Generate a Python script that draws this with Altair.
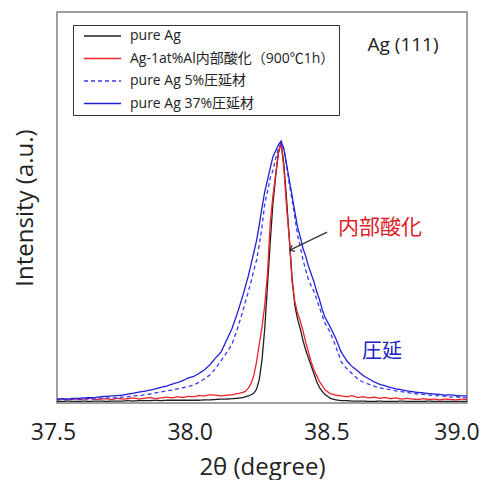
import altair as alt
import pandas as pd

# ---- data ----
series_names = ["pure Ag", "Ag-1at%Al内部酸化（900℃1h）", "pure Ag 5%圧延材", "pure Ag 37%圧延材"]
series_colors = ["#1e1e1e", "#ee2028", "#3a3af2", "#2020d6"]
series_dash = [[1, 0], [1, 0], [4, 3], [1, 0]]

two_theta = ([round(37.50 + 0.02 * i, 2) for i in range(34)]
             + [round(38.18 + 0.01 * i, 2) for i in range(31)]
             + [round(38.50 + 0.02 * i, 2) for i in range(26)])

pure_ag = [0.4, 0.4, 0.5, 0.4, 0.4, 0.5, 0.4, 0.5, 0.5, 0.4,
           0.5, 0.5, 0.5, 0.6, 0.5, 0.6, 0.6, 0.6, 0.7, 0.6,
           0.7, 0.7, 0.7, 0.7, 0.7, 0.7, 0.7, 0.8, 0.8, 0.9,
           1.0, 1.0, 1.1, 1.2,
           1.4, 1.6, 1.8, 2.1, 2.5, 3.5, 6.0, 11.0, 19.0, 30.0,
           41.0, 51.0, 58.0, 64.0, 66.5, 61.0, 52.0, 42.0, 32.0, 25.0,
           21.5, 19.0, 16.0, 13.5, 11.5, 9.5, 7.5, 5.5, 4.0, 3.0,
           2.2,
           1.2, 0.8, 0.6, 0.6, 0.5, 0.5, 0.5, 0.4, 0.4, 0.5,
           0.4, 0.4, 0.4, 0.5, 0.4, 0.4, 0.4, 0.4, 0.5, 0.4,
           0.4, 0.4, 0.4, 0.4, 0.4, 0.4]

ag_al_oxidized = [0.9, 1.0, 0.8, 1.1, 0.9, 1.0, 1.2, 0.9, 1.0, 1.1,
                  0.9, 1.2, 1.0, 1.1, 1.3, 1.0, 1.2, 1.4, 1.1, 1.3,
                  1.5, 1.3, 1.6, 1.4, 1.7, 1.6, 1.9, 1.8, 2.1, 2.0,
                  1.8, 2.0, 2.1, 2.4,
                  2.7, 3.0, 3.8, 5.0, 7.0, 10.5, 15.0, 19.4, 25.0, 33.0,
                  46.0, 53.0, 58.5, 64.0, 66.5, 60.0, 50.0, 42.0, 31.0, 26.0,
                  23.0, 21.0, 18.5, 15.5, 13.0, 10.5, 8.5, 7.0, 5.5, 4.5,
                  3.4,
                  2.4, 2.0, 1.8, 1.6, 1.9, 1.4, 1.6, 1.3, 1.5, 1.2,
                  1.4, 1.1, 1.3, 1.0, 1.2, 1.0, 0.9, 1.1, 0.9, 1.0,
                  0.8, 1.0, 0.9, 0.8, 1.0, 0.9]

rolled_5 = [0.8, 0.9, 0.8, 1.0, 0.9, 1.0, 1.1, 1.0, 1.2, 1.3,
            1.2, 1.4, 1.5, 1.6, 1.8, 1.9, 2.1, 2.3, 2.6, 2.8,
            3.1, 3.3, 3.6, 3.9, 4.2, 4.6, 5.3, 6.2, 7.2, 8.8,
            10.8, 12.8, 15.0, 19.0,
            23.5, 26.0, 28.5, 31.0, 34.0, 36.5, 40.5, 45.0, 51.0, 54.0,
            57.5, 59.5, 62.5, 65.0, 66.5, 65.0, 60.5, 56.0, 52.0, 47.5,
            43.0, 40.0, 36.6, 34.0, 31.5, 30.0, 28.5, 26.5, 24.5, 22.5,
            20.5,
            18.0, 14.5, 10.5, 8.8, 7.5, 6.2, 5.3, 4.8, 4.3, 3.9,
            3.6, 3.4, 3.1, 2.9, 2.7, 2.5, 2.3, 2.2, 2.0, 1.9,
            1.8, 1.7, 1.5, 1.6, 1.4, 1.3]

rolled_37 = [1.0, 1.1, 1.0, 1.2, 1.2, 1.3, 1.4, 1.4, 1.6, 1.7,
             1.8, 1.9, 2.0, 2.3, 2.5, 2.8, 3.0, 3.3, 3.6, 4.0,
             4.3, 4.8, 5.2, 5.7, 6.4, 6.8, 7.6, 8.5, 9.8, 11.5,
             13.0, 16.0, 19.0, 23.0,
             27.5, 30.0, 32.5, 35.5, 38.5, 41.5, 45.5, 50.0, 54.0, 57.0,
             60.0, 63.0, 64.5, 66.0, 67.0, 65.0, 61.0, 57.0, 53.0, 49.0,
             45.0, 42.5, 39.5, 37.5, 35.0, 33.0, 31.0, 28.5, 26.5, 24.0,
             22.0,
             19.4, 16.5, 13.0, 10.8, 9.3, 8.2, 7.0, 6.2, 5.4, 4.8,
             4.4, 4.0, 3.6, 3.4, 3.1, 2.9, 2.7, 2.6, 2.4, 2.3,
             2.2, 2.0, 2.1, 1.9, 1.8, 1.8]

x_ticks = [37.5, 38.0, 38.5, 39.0]

# annotations
note_texts = ["内部酸化", "圧延", "Ag (111)"]
note_x = [38.682, 38.689, 38.766]
note_y = [44.8, 13.0, 91.5]
note_sizes = [21, 20, 19]
note_colors = ["#e02028", "#2020c8", "#222222"]
arrow_x = [38.488, 38.352]
arrow_y = [43.7, 39.1]

# ---- build tables ----
series_values = [pure_ag, ag_al_oxidized, rolled_5, rolled_37]
frames = []
for name, vals in zip(series_names, series_values):
    frames.append(pd.DataFrame({"two_theta": two_theta, "intensity": vals, "series": name}))
df = pd.concat(frames, ignore_index=True)
df["order"] = df["series"].map({n: i for i, n in enumerate(series_names)})

notes = pd.DataFrame({"x": note_x, "y": note_y, "text": note_texts, "c": note_colors, "s": note_sizes})
arrow = pd.DataFrame({"x": arrow_x, "y": arrow_y})
arrow_head = arrow.iloc[[1]]

xs = alt.Scale(domain=[37.5, 39.0], nice=False, zero=False)
ys = alt.Scale(domain=[0, 100], nice=False)

latin = "Open Sans, Noto Sans CJK JP"

lines = alt.Chart(df).mark_line(strokeWidth=1.3, clip=True).encode(
    x=alt.X("two_theta:Q", scale=xs,
            axis=alt.Axis(values=x_ticks, format=".1f", ticks=False, domain=False, grid=False,
                          labelFlush=False, labelFontSize=23, labelFont=latin, labelColor="#222",
                          labelPadding=18,
                          labelOffset={"expr": "datum.value >= 39 ? -10.5 : -4"},
                          title="2θ (degree)", titleFontSize=24, titleFont=latin,
                          titleFontWeight="normal", titleColor="#222", titlePadding=11)),
    y=alt.Y("intensity:Q", scale=ys,
            axis=alt.Axis(labels=False, ticks=False, domain=False, grid=False,
                          title="Intensity (a.u.)", titleFontSize=24, titleFont=latin,
                          titleFontWeight="normal", titleColor="#222", titlePadding=20)),
    color=alt.Color("series:N", scale=alt.Scale(domain=series_names, range=series_colors),
                    legend=alt.Legend(title=None)),
    strokeDash=alt.StrokeDash("series:N", scale=alt.Scale(domain=series_names, range=series_dash),
                              legend=alt.Legend(title=None)),
    order=alt.Order("order:Q"),
)

text_layer = alt.Chart(notes).mark_text(font=latin, align="center", baseline="middle").encode(
    x=alt.X("x:Q", scale=xs), y=alt.Y("y:Q", scale=ys),
    text="text:N", color=alt.Color("c:N", scale=None), size=alt.Size("s:Q", scale=None),
)

arrow_line = alt.Chart(arrow).mark_line(color="#333333", strokeWidth=1.2).encode(
    x=alt.X("x:Q", scale=xs), y=alt.Y("y:Q", scale=ys),
)
arrow_tip = alt.Chart(arrow_head).mark_point(
    shape="M-0.8,1L0,0L0.8,1", filled=False, color="#333333", size=70, strokeWidth=1.2, angle=244, opacity=1
).encode(x=alt.X("x:Q", scale=xs), y=alt.Y("y:Q", scale=ys))

chart = alt.layer(lines, arrow_line, arrow_tip, text_layer).properties(
    width=410, height=391,
    padding={"left": 49, "top": 4, "right": 13, "bottom": 77},
    autosize=alt.AutoSizeParams(type="none"),
).configure_view(
    stroke="#808080", strokeWidth=1.5
).configure_legend(
    orient="none", legendX=16, legendY=13,
    strokeColor="#333333", fillColor="white", padding=4,
    symbolType="stroke", symbolSize=1369, clipHeight=14, symbolStrokeWidth=1.4, symbolOffset=6,
    labelFontSize=14, labelFont=latin, labelColor="#222", labelOffset=8, labelLimit=300,
    rowPadding=8.5,
)

chart.save("out.html", embed_options={"renderer": "svg", "actions": False})
